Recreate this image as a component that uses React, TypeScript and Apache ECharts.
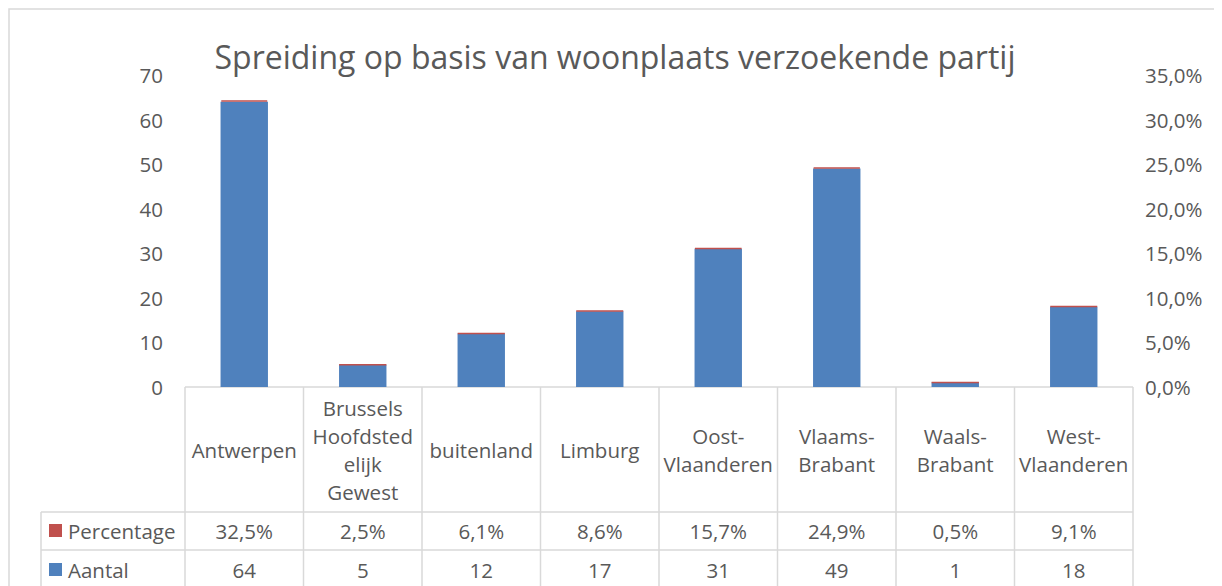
import React, { useEffect, useRef } from "react";
import * as echarts from "echarts";

const title = "Spreiding op basis van woonplaats verzoekende partij";
const categories = [
  "Antwerpen",
  "Brussels Hoofdstedelijk Gewest",
  "buitenland",
  "Limburg",
  "Oost-Vlaanderen",
  "Vlaams-Brabant",
  "Waals-Brabant",
  "West-Vlaanderen",
];
const categoryLabels = [
  "Antwerpen",
  "Brussels\nHoofdsted\nelijk\nGewest",
  "buitenland",
  "Limburg",
  "Oost-\nVlaanderen",
  "Vlaams-\nBrabant",
  "Waals-\nBrabant",
  "West-\nVlaanderen",
];
const aantal = [64, 5, 12, 17, 31, 49, 1, 18];
const percentage = [0.325, 0.025, 0.061, 0.086, 0.157, 0.249, 0.005, 0.091];
const leftTicks = { min: 0, max: 70, interval: 10 };
const rightTicks = { min: 0, max: 0.35, interval: 0.05 };

const BLUE = "#4F81BD";
const RED = "#C0504D";
const TEXT = "#595959";
const LINE = "#D9D9D9";
const FONT = "Open Sans";
const FS = 20.5;

const W = 1214;
const H = 578;
const GL = 177;
const GR = 1125;
const GT = 67;
const GB = 379;
const ROW1 = 504;
const ROW2 = 542;
const LEG_X = 33;

const fmtPct = (v: number) => (v * 100).toFixed(1).replace(".", ",") + "%";

export default function App() {
  const ref = useRef<HTMLDivElement>(null);
  useEffect(() => {
    if (!ref.current) return;
    const chart = echarts.init(ref.current, undefined, { renderer: "svg" });
    const colW = (GR - GL) / categories.length;
    const graphics: any[] = [];
    const ln = (x1: number, y1: number, x2: number, y2: number) => ({
      type: "line",
      shape: { x1, y1, x2, y2 },
      style: { stroke: LINE, lineWidth: 1.5 },
      silent: true,
    });
    // outer frame
    graphics.push({
      type: "rect",
      shape: { x: 1, y: 1, width: W - 3, height: H + 40 },
      style: { fill: "none", stroke: LINE, lineWidth: 1.5 },
      silent: true,
    });
    graphics.push(ln(GL, GB, GR, GB));
    graphics.push(ln(LEG_X, ROW1, GR, ROW1));
    graphics.push(ln(LEG_X, ROW2, GR, ROW2));
    graphics.push(ln(LEG_X, ROW1, LEG_X, H + 10));
    for (let i = 0; i <= categories.length; i++) {
      const x = GL + i * colW;
      graphics.push(ln(x, GB, x, H + 10));
    }
    const rows = [
      { name: "Percentage", color: RED, vals: percentage.map(fmtPct), y: (ROW1 + ROW2) / 2 },
      { name: "Aantal", color: BLUE, vals: aantal.map(String), y: (ROW2 + H + 4) / 2 },
    ];
    rows.forEach((r) => {
      graphics.push({
        type: "rect",
        shape: { x: LEG_X + 8, y: r.y - 7, width: 13, height: 13 },
        style: { fill: r.color },
        silent: true,
      });
      graphics.push({
        type: "text",
        x: LEG_X + 27,
        y: r.y,
        style: {
          text: r.name,
          fill: TEXT,
          font: `${FS}px "${FONT}"`,
          verticalAlign: "middle",
          align: "left",
        },
        silent: true,
      });
      r.vals.forEach((v, i) => {
        graphics.push({
          type: "text",
          x: GL + (i + 0.5) * colW,
          y: r.y,
          style: {
            text: v,
            fill: TEXT,
            font: `${FS}px "${FONT}"`,
            verticalAlign: "middle",
            align: "center",
          },
          silent: true,
        });
      });
    });

    chart.setOption({
      animation: false,
      backgroundColor: "#fff",
      textStyle: { fontFamily: FONT },
      title: {
        text: title,
        left: "center",
        top: 27,
        textStyle: { fontFamily: FONT, fontSize: 32, fontWeight: "normal", color: TEXT },
      },
      grid: { left: GL, right: W - GR, top: GT, bottom: H - GB, containLabel: false },
      xAxis: {
        type: "category",
        data: categories,
        axisLine: { show: false },
        axisTick: { show: false },
        axisLabel: {
          interval: 0,
          margin: (ROW1 - GB) / 2,
          verticalAlign: "middle",
          align: "center",
          fontSize: FS,
          lineHeight: 28,
          color: TEXT,
          fontFamily: FONT,
          formatter: (_v: string, i: number) => categoryLabels[i],
        },
      },
      yAxis: [
        {
          type: "value",
          ...leftTicks,
          splitLine: { show: false },
          axisLine: { show: false },
          axisTick: { show: false },
          axisLabel: { margin: 22, fontSize: FS, color: TEXT, fontFamily: FONT },
        },
        {
          type: "value",
          position: "right",
          ...rightTicks,
          splitLine: { show: false },
          axisLine: { show: false },
          axisTick: { show: false },
          axisLabel: {
            margin: 12,
            fontSize: FS,
            color: TEXT,
            fontFamily: FONT,
            formatter: (v: number) => fmtPct(v),
          },
        },
      ],
      series: [
        {
          name: "Aantal",
          type: "bar",
          stack: "s",
          data: aantal,
          barWidth: "40%",
          itemStyle: { color: BLUE },
        },
        {
          name: "Percentage",
          type: "bar",
          stack: "s",
          data: percentage,
          barWidth: "40%",
          itemStyle: { color: RED, borderColor: RED, borderWidth: 1.5 },
        },
      ],
      graphic: graphics,
    });
    return () => chart.dispose();
  }, []);
  return <div ref={ref} style={{ width: W, height: H }} />;
}
